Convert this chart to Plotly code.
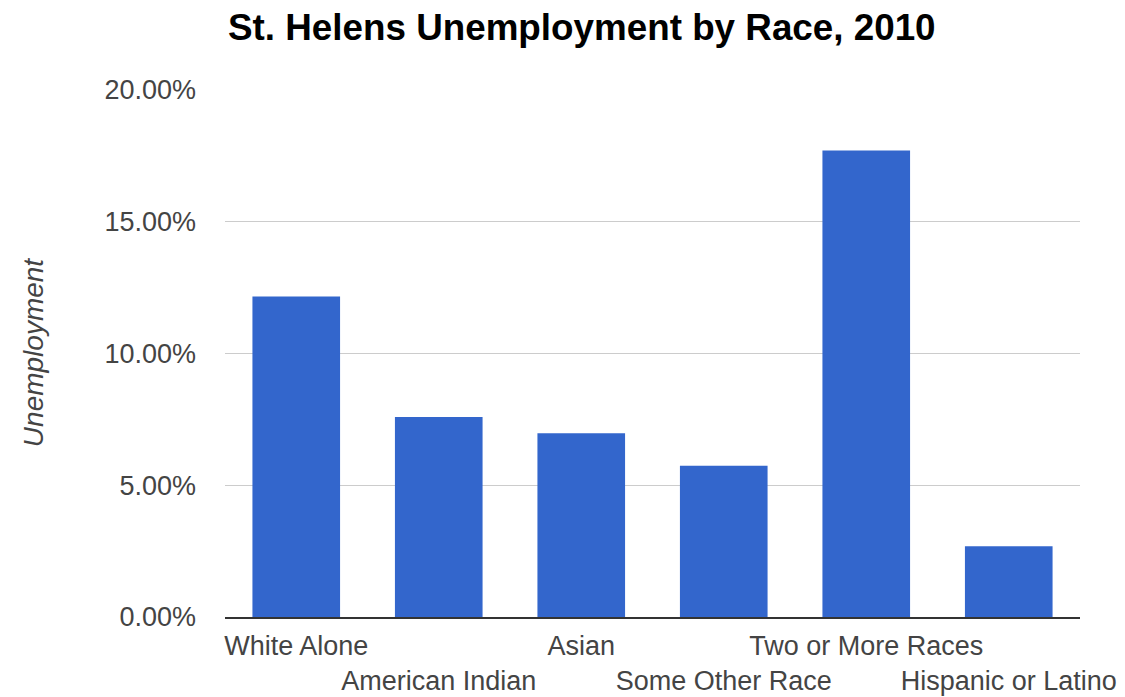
import plotly.graph_objects as go

# Unemployment rate by race, St. Helens 2010
categories = ["White Alone", "American Indian", "Asian", "Some Other Race",
              "Two or More Races", "Hispanic or Latino"]
unemployment = [0.1215, 0.0758, 0.0696, 0.0573, 0.1768, 0.0268]
y_ticks = [0.0, 0.05, 0.10, 0.15, 0.20]

# alternate category labels onto two rows so they don't collide
tick_text = [c if i % 2 == 0 else "<br>" + c for i, c in enumerate(categories)]

font_family = "Liberation Sans, Arial, sans-serif"

fig = go.Figure(
    go.Bar(
        x=categories,
        y=unemployment,
        marker=dict(color="#3366cc", line=dict(width=0)),
    )
)

fig.update_layout(
    width=1125,
    height=697,
    margin=dict(l=225, r=45, t=89, b=80),
    paper_bgcolor="white",
    plot_bgcolor="white",
    bargap=0.385,
    showlegend=False,
    font=dict(family=font_family, size=27, color="#444444"),
    title=dict(
        text="<b>St. Helens Unemployment by Race, 2010</b>",
        font=dict(family=font_family, size=36.8, color="#000000"),
        x=228 / 1125,
        xanchor="left",
        xref="container",
        yref="container",
        y=1 - 27 / 697,
        yanchor="middle",
    ),
    xaxis=dict(
        tickmode="array",
        tickvals=categories,
        ticktext=tick_text,
        tickangle=0,
        showgrid=False,
        showline=True,
        linecolor="#333333",
        linewidth=1.5,
        ticks="",
        ticklabelstandoff=4,
        automargin=False,
        tickfont=dict(size=27, color="#444444"),
    ),
    yaxis=dict(
        range=[0, 0.2001],
        tickvals=y_ticks,
        tickformat=".2%",
        showgrid=True,
        gridcolor="#cccccc",
        gridwidth=1,
        zeroline=False,
        ticks="",
        ticklabelstandoff=28,
        automargin=False,
        tickfont=dict(size=27, color="#444444"),
        title=dict(
            text="<i>Unemployment</i>",
            font=dict(size=28, color="#444444"),
            standoff=52,
        ),
    ),
)

fig.write_html("out.html")
